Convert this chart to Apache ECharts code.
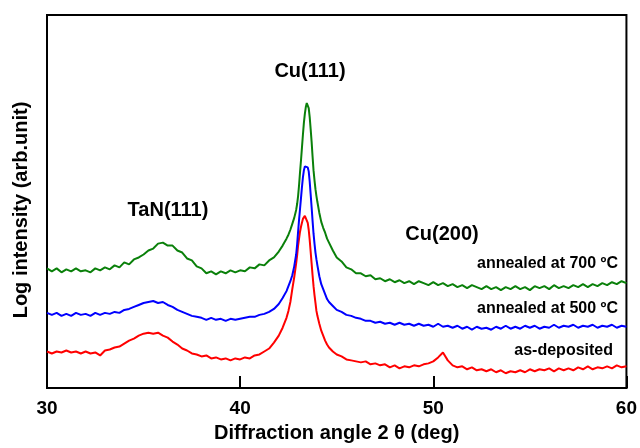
<!DOCTYPE html>
<html>
<head>
<meta charset="utf-8">
<script src="https://cdn.jsdelivr.net/npm/echarts@6/dist/echarts.min.js"></script>
<style>html,body{margin:0;padding:0;background:#fff}#c{width:640px;height:448px}</style>
</head>
<body>
<div id="c"></div>
<script>
// Diffraction angle 2θ (deg)
var angles = [
  30,30.25,30.5,30.75,31,31.25,31.5,31.75,
  32,32.25,32.5,32.75,33,33.25,33.5,33.75,
  34,34.25,34.5,34.75,35,35.25,35.5,35.75,
  36,36.25,36.5,36.75,37,37.25,37.5,37.75,
  38,38.25,38.5,38.75,39,39.25,39.5,39.75,
  40,40.25,40.5,40.75,41,41.25,41.5,41.75,
  42,42.2,42.4,42.5,42.6,42.7,42.8,
  42.9,42.95,43,43.05,43.1,43.15,43.2,43.25,43.3,43.35,43.4,43.45,43.5,43.55,43.6,43.65,43.7,43.75,43.8,43.85,43.9,43.95,44,
  44.1,44.2,44.3,44.4,44.5,44.6,44.8,45,
  45.25,45.5,45.75,46,46.25,46.5,46.75,47,47.25,47.5,
  47.75,48,48.25,48.5,48.75,49,49.25,49.5,49.75,50,
  50.25,50.5,50.75,51,51.25,51.5,51.75,52,52.25,52.5,
  52.75,53,53.25,53.5,53.75,54,54.25,54.5,54.75,55,
  55.25,55.5,55.75,56,56.25,56.5,56.75,57,57.25,57.5,
  57.75,58,58.25,58.5,58.75,59,59.25,59.5,59.75,60
];
// Log intensity (arb. unit, stacked offsets)
var annealed700 = [
  121,118,121,117,120,118,121,118,
  119,117,121,119,122,120,124,122,
  127,125,130,132,135,139,141,146,
  147,144,144,139,137,131,129,123,
  121,116,118,115,118,116,119,117,
  119,118,122,121,125,124,129,132,
  138,144,151,155,160,166,172,
  180,186,194,205,218,230,243,256,268,277,284,288,287,283,274,262,249,234,220,210,201,194,188,
  177,168,162,157,151,147,139,132,
  128,122,120,116,116,113,114,110,111,108,
  110,107,109,106,108,105,108,106,104,107,
  104,106,103,105,102,104,101,104,102,100,
  103,100,102,99,102,100,103,100,102,99,
  103,101,103,100,104,101,103,101,104,102,
  105,102,105,103,106,104,107,105,108,106
];
var annealed500 = [
  76,74,76,73,75,73,76,74,
  75,73,76,74,76,75,77,76,
  79,80,82,84,86,87,88,86,
  87,84,82,79,77,75,73,72,
  71,69,71,69,70,68,70,69,
  70,71,72,72,74,75,77,80,
  85,91,98,103,108,114,123,
  135,145,158,170,181,192,203,213,220,224,226,225,223,219,209,196,183,169,156,146,137,130,124,
  113,105,100,95,90,87,83,79,
  77,74,73,71,70,68,68,66,67,65,
  66,64,66,64,65,63,65,63,64,62,
  65,62,63,61,63,60,62,59,62,60,
  61,59,62,60,63,60,62,60,63,61,
  63,60,62,61,64,61,63,62,64,61,
  63,62,64,61,63,62,64,61,63,62
];
var asDeposited = [
  37,35,37,36,38,36,37,35,
  37,35,36,33,38,39,41,42,
  45,48,50,53,55,56,55,56,
  53,51,47,44,40,38,35,34,
  32,33,30,31,29,30,28,30,
  29,31,30,33,34,37,40,46,
  53,61,71,78,87,100,112,
  126,134,144,151,158,163,167,171,173,174,174,172,167,160,150,138,126,114,103,94,86,78,73,
  65,58,53,48,44,41,37,34,
  32,29,28,27,26,27,24,25,23,24,
  21,23,20,22,21,23,22,24,25,27,
  31,36,28,23,21,22,19,21,18,19,
  17,19,16,18,15,17,16,18,16,19,
  17,19,18,20,17,20,18,20,18,21,
  19,22,19,21,20,22,20,23,21,22
];
var xTicks = [30, 40, 50, 60];

function zip(ys){ return angles.map(function(a,i){ return [a, ys[i]]; }); }

var FONT = '"Liberation Sans", Arial, sans-serif';
var chart = echarts.init(document.getElementById('c'), null, {renderer:'canvas'});
chart.setOption({
  animation: false,
  backgroundColor: '#fff',
  grid: {left:47, right:13, top:15, bottom:56, show:true, borderColor:'#000', borderWidth:2},
  xAxis: {
    type:'value', min:xTicks[0], max:xTicks[xTicks.length-1], interval:10,
    name:'Diffraction angle 2 θ (deg)', nameLocation:'middle', nameGap:34,
    nameTextStyle:{fontSize:20, fontWeight:'bold', color:'#000', fontFamily:FONT},
    axisLine:{show:true, lineStyle:{color:'#000', width:2}},
    axisTick:{show:true, inside:true, length:12, lineStyle:{color:'#000', width:2}},
    axisLabel:{fontSize:19, fontWeight:'bold', color:'#000', fontFamily:FONT, margin:11},
    splitLine:{show:false}
  },
  yAxis: {
    type:'value', min:0, max:377,
    axisLine:{show:true, lineStyle:{color:'#000', width:2}},
    axisTick:{show:false}, axisLabel:{show:false}, splitLine:{show:false}
  },
  series: [
    {name:'as-deposited', type:'line', data:zip(asDeposited), showSymbol:false, lineStyle:{color:'#ff0000', width:2}, silent:true},
    {name:'annealed at 500 ºC', type:'line', data:zip(annealed500), showSymbol:false, lineStyle:{color:'#0000ff', width:2}, silent:true},
    {name:'annealed at 700 ºC', type:'line', data:zip(annealed700), showSymbol:false, lineStyle:{color:'#0a800a', width:2}, silent:true}
  ],
  graphic: [
    {type:'text', x:21, y:210, rotation:Math.PI/2, style:{text:'Log intensity (arb.unit)', font:'bold 20px '+FONT, fill:'#000', align:'center', verticalAlign:'middle'}},
    {type:'text', x:310, y:71, style:{text:'Cu(111)', font:'bold 20px '+FONT, fill:'#000', align:'center', verticalAlign:'middle'}},
    {type:'text', x:168, y:210, style:{text:'TaN(111)', font:'bold 20px '+FONT, fill:'#000', align:'center', verticalAlign:'middle'}},
    {type:'text', x:442, y:234, style:{text:'Cu(200)', font:'bold 20px '+FONT, fill:'#000', align:'center', verticalAlign:'middle'}},
    {type:'text', x:618, y:264, style:{text:'annealed at 700 ºC', font:'bold 16px '+FONT, fill:'#000', align:'right', verticalAlign:'middle'}},
    {type:'text', x:618, y:309, style:{text:'annealed at 500 ºC', font:'bold 16px '+FONT, fill:'#000', align:'right', verticalAlign:'middle'}},
    {type:'text', x:613, y:351, style:{text:'as-deposited', font:'bold 16px '+FONT, fill:'#000', align:'right', verticalAlign:'middle'}}
  ]
});
</script>
</body>
</html>
